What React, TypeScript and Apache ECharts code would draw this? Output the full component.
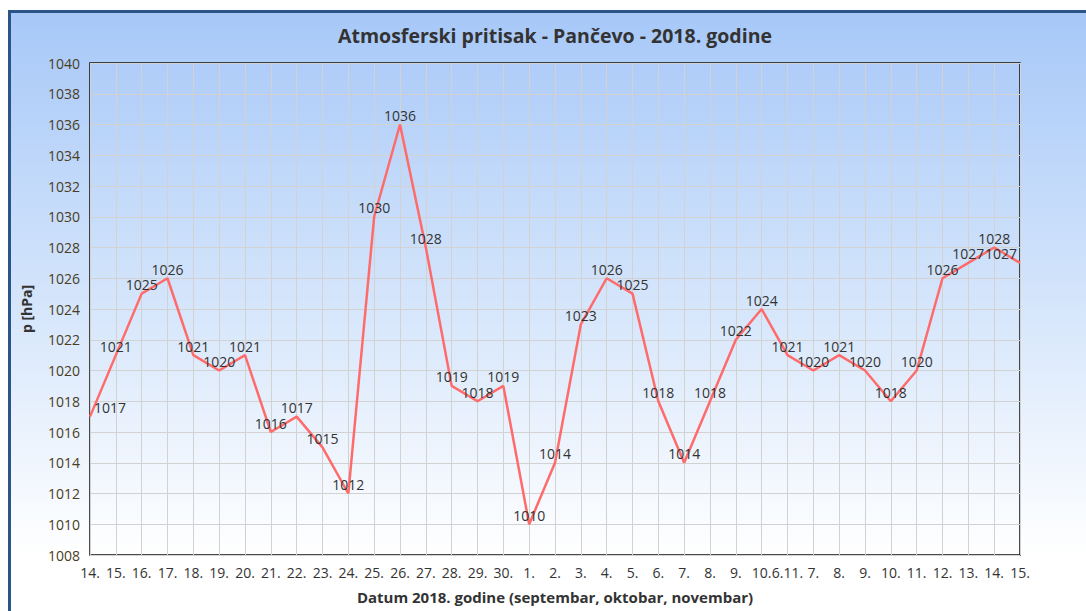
import React, { useEffect, useRef } from "react";
import * as echarts from "echarts";

const categories = [
  "14.", "15.", "16.", "17.", "18.", "19.", "20.", "21.", "22.", "23.", "24.", "25.", "26.", "27.", "28.", "29.", "30.",
  "1.", "2.", "3.", "4.", "5.", "6.", "7.", "8.", "9.", "10.",
  "6.11.", "7.", "8.", "9.", "10.", "11.", "12.", "13.", "14.", "15.",
];

const pressure = [
  1017, 1021, 1025, 1026, 1021, 1020, 1021, 1016, 1017, 1015, 1012, 1030, 1036, 1028, 1019, 1018, 1019,
  1010, 1014, 1023, 1026, 1025, 1018, 1014, 1018, 1022, 1024,
  1021, 1020, 1021, 1020, 1018, 1020, 1026, 1027, 1028, 1027,
];

const title = "Atmosferski pritisak - Pančevo - 2018. godine";
const xName = "Datum 2018. godine (septembar, oktobar, novembar)";
const yName = "p [hPa]";
const yMin = 1008;
const yMax = 1040;
const yStep = 2;

const FONT = "'Open Sans', 'Noto Sans', sans-serif";

export default function App() {
  const ref = useRef<HTMLDivElement>(null);

  useEffect(() => {
    if (!ref.current) return;
    const chart = echarts.init(ref.current, null, { renderer: "svg" });
    const last = pressure.length - 1;
    const seriesData = pressure.map((v, i) => {
      if (i === 0) return { value: v, label: { offset: [20, 0] } };
      if (i === last) return { value: v, label: { offset: [-19, 0] } };
      return v;
    });
    chart.setOption({
      animation: false,
      textStyle: { fontFamily: FONT },
      graphic: [
        {
          type: "text",
          x: 555,
          y: 35,
          style: {
            text: title,
            fontFamily: FONT,
            fontSize: 19.5,
            fontWeight: "bold",
            fill: "#333333",
            textAlign: "center",
            textVerticalAlign: "middle",
          },
        },
      ],
      grid: {
        left: 90,
        right: 66,
        top: 63,
        bottom: 56,
        outerBoundsMode: "none",
        containLabel: false,
        show: true,
        borderColor: "#111111",
        borderWidth: 1.5,
        backgroundColor: "transparent",
      },
      xAxis: {
        type: "category",
        data: categories,
        boundaryGap: false,
        name: xName,
        nameLocation: "middle",
        nameGap: 34,
        nameTextStyle: { fontFamily: FONT, fontSize: 15, fontWeight: "bold", color: "#333333" },
        axisLine: { show: false },
        axisTick: { show: false },
        axisLabel: { interval: 0, fontFamily: FONT, fontSize: 14, color: "#333333", margin: 10 },
        splitLine: { show: true, lineStyle: { color: "#d2d2d2", width: 1 } },
      },
      yAxis: {
        type: "value",
        min: yMin,
        max: yMax,
        interval: yStep,
        name: yName,
        nameLocation: "middle",
        nameGap: 57,
        nameRotate: 90,
        nameTextStyle: { fontFamily: FONT, fontSize: 14, fontWeight: "bold", color: "#333333" },
        axisLine: { show: false },
        axisTick: { show: false },
        axisLabel: {
          fontFamily: FONT,
          fontSize: 14,
          color: "#4a3d22",
          margin: 10,
          formatter: (v: number) => String(v),
        },
        splitLine: { show: true, lineStyle: { color: "#d2d2d2", width: 1 } },
      },
      series: [
        {
          type: "line",
          data: seriesData,
          symbol: "circle",
          symbolSize: 0,
          lineStyle: { color: "#ff6b6b", width: 2.5 },
          itemStyle: { color: "#ff6b6b" },
          label: {
            show: true,
            position: "top",
            distance: 2,
            fontFamily: FONT,
            fontSize: 14,
            color: "#333333",
          },
        },
      ],
    });
    return () => chart.dispose();
  }, []);

  return (
    <div style={{ position: "fixed", left: 0, top: 0, width: 1086, height: 611, overflow: "hidden", background: "#ffffff" }}>
      <div
        style={{
          position: "absolute",
          left: 8,
          top: 10,
          width: 1120,
          height: 660,
          border: "3px solid #2c5587",
          background: "linear-gradient(to bottom, #a7c8f8 0%, #d6e6fb 45%, #ffffff 82%)",
        }}
      />
      <div ref={ref} style={{ position: "absolute", left: 0, top: 0, width: 1086, height: 611 }} />
    </div>
  );
}
